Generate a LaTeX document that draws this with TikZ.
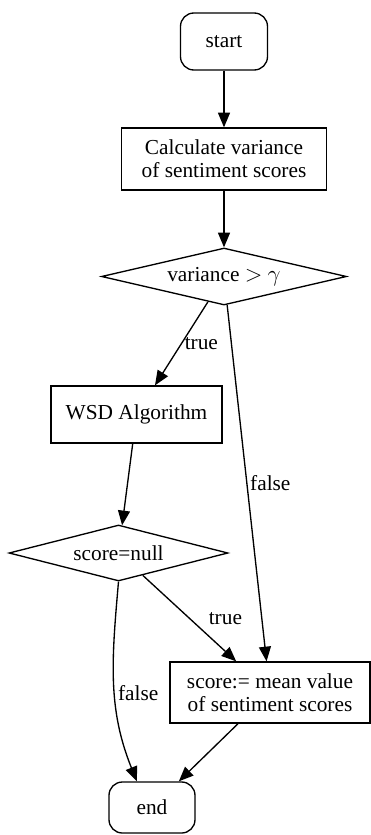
\documentclass[tikz,border=0pt]{standalone}
\usepackage{fontspec}
\setmainfont{Liberation Serif}
\usetikzlibrary{shapes.geometric,arrows.meta}
\newcommand{\gvfont}{\fontsize{16}{17.5}\selectfont}

\begin{document}
\begin{tikzpicture}[x=0.75pt, y=-0.75pt,
  box/.style={draw, line width=1pt, font=\gvfont, align=center, inner sep=0pt},
  term/.style={box, rounded corners=10pt},
  cond/.style={box, diamond, aspect=4},
  flow/.style={-{Triangle[length=11pt,width=9pt]}, line width=1pt},
  lbl/.style={font=\gvfont, inner sep=2pt}]
  \useasboundingbox (0,0) rectangle (371,835);

  % Nodes
  \node[term, minimum width=65.25pt, minimum height=42.75pt] (start) at (224,41.5) {start};
  \node[box, minimum width=153.75pt, minimum height=46.5pt] (calc) at (224,159) {Calculate variance\\of sentiment scores};
  \node[cond, minimum width=183.75pt, minimum height=42.75pt] (var) at (224,276.5) {variance $>$ $\gamma$};
  \node[box, minimum width=128.25pt, minimum height=42.75pt] (wsd) at (136.5,414.5) {WSD Algorithm};
  \node[cond, minimum width=164.25pt, minimum height=42pt] (null) at (118.5,553) {score=null};
  \node[box, minimum width=150pt, minimum height=45.75pt] (mean) at (270,692.5) {score:= mean value\\of sentiment scores};
  \node[term, minimum width=64.5pt, minimum height=38.25pt] (end) at (152,807.5) {end};

  % Edges
  \draw[flow] (start) -- (calc);
  \draw[flow] (calc) -- (var);
  \draw[flow] (var) -- node[lbl, right] (t1) {true} (wsd);
  \draw[flow] (var) -- node[lbl, right] (f1) {false} (mean);
  \draw[flow] (wsd) -- (null);
  \draw[flow] (null) -- node[lbl, right=12pt] (t2) {true} (mean);
  \draw[flow] (null.south) to[out=-95, in=112] node[lbl, pos=0.55, right] (f2) {false} (end.120);
  \draw[flow] (mean) -- (end);
\end{tikzpicture}
\end{document}
